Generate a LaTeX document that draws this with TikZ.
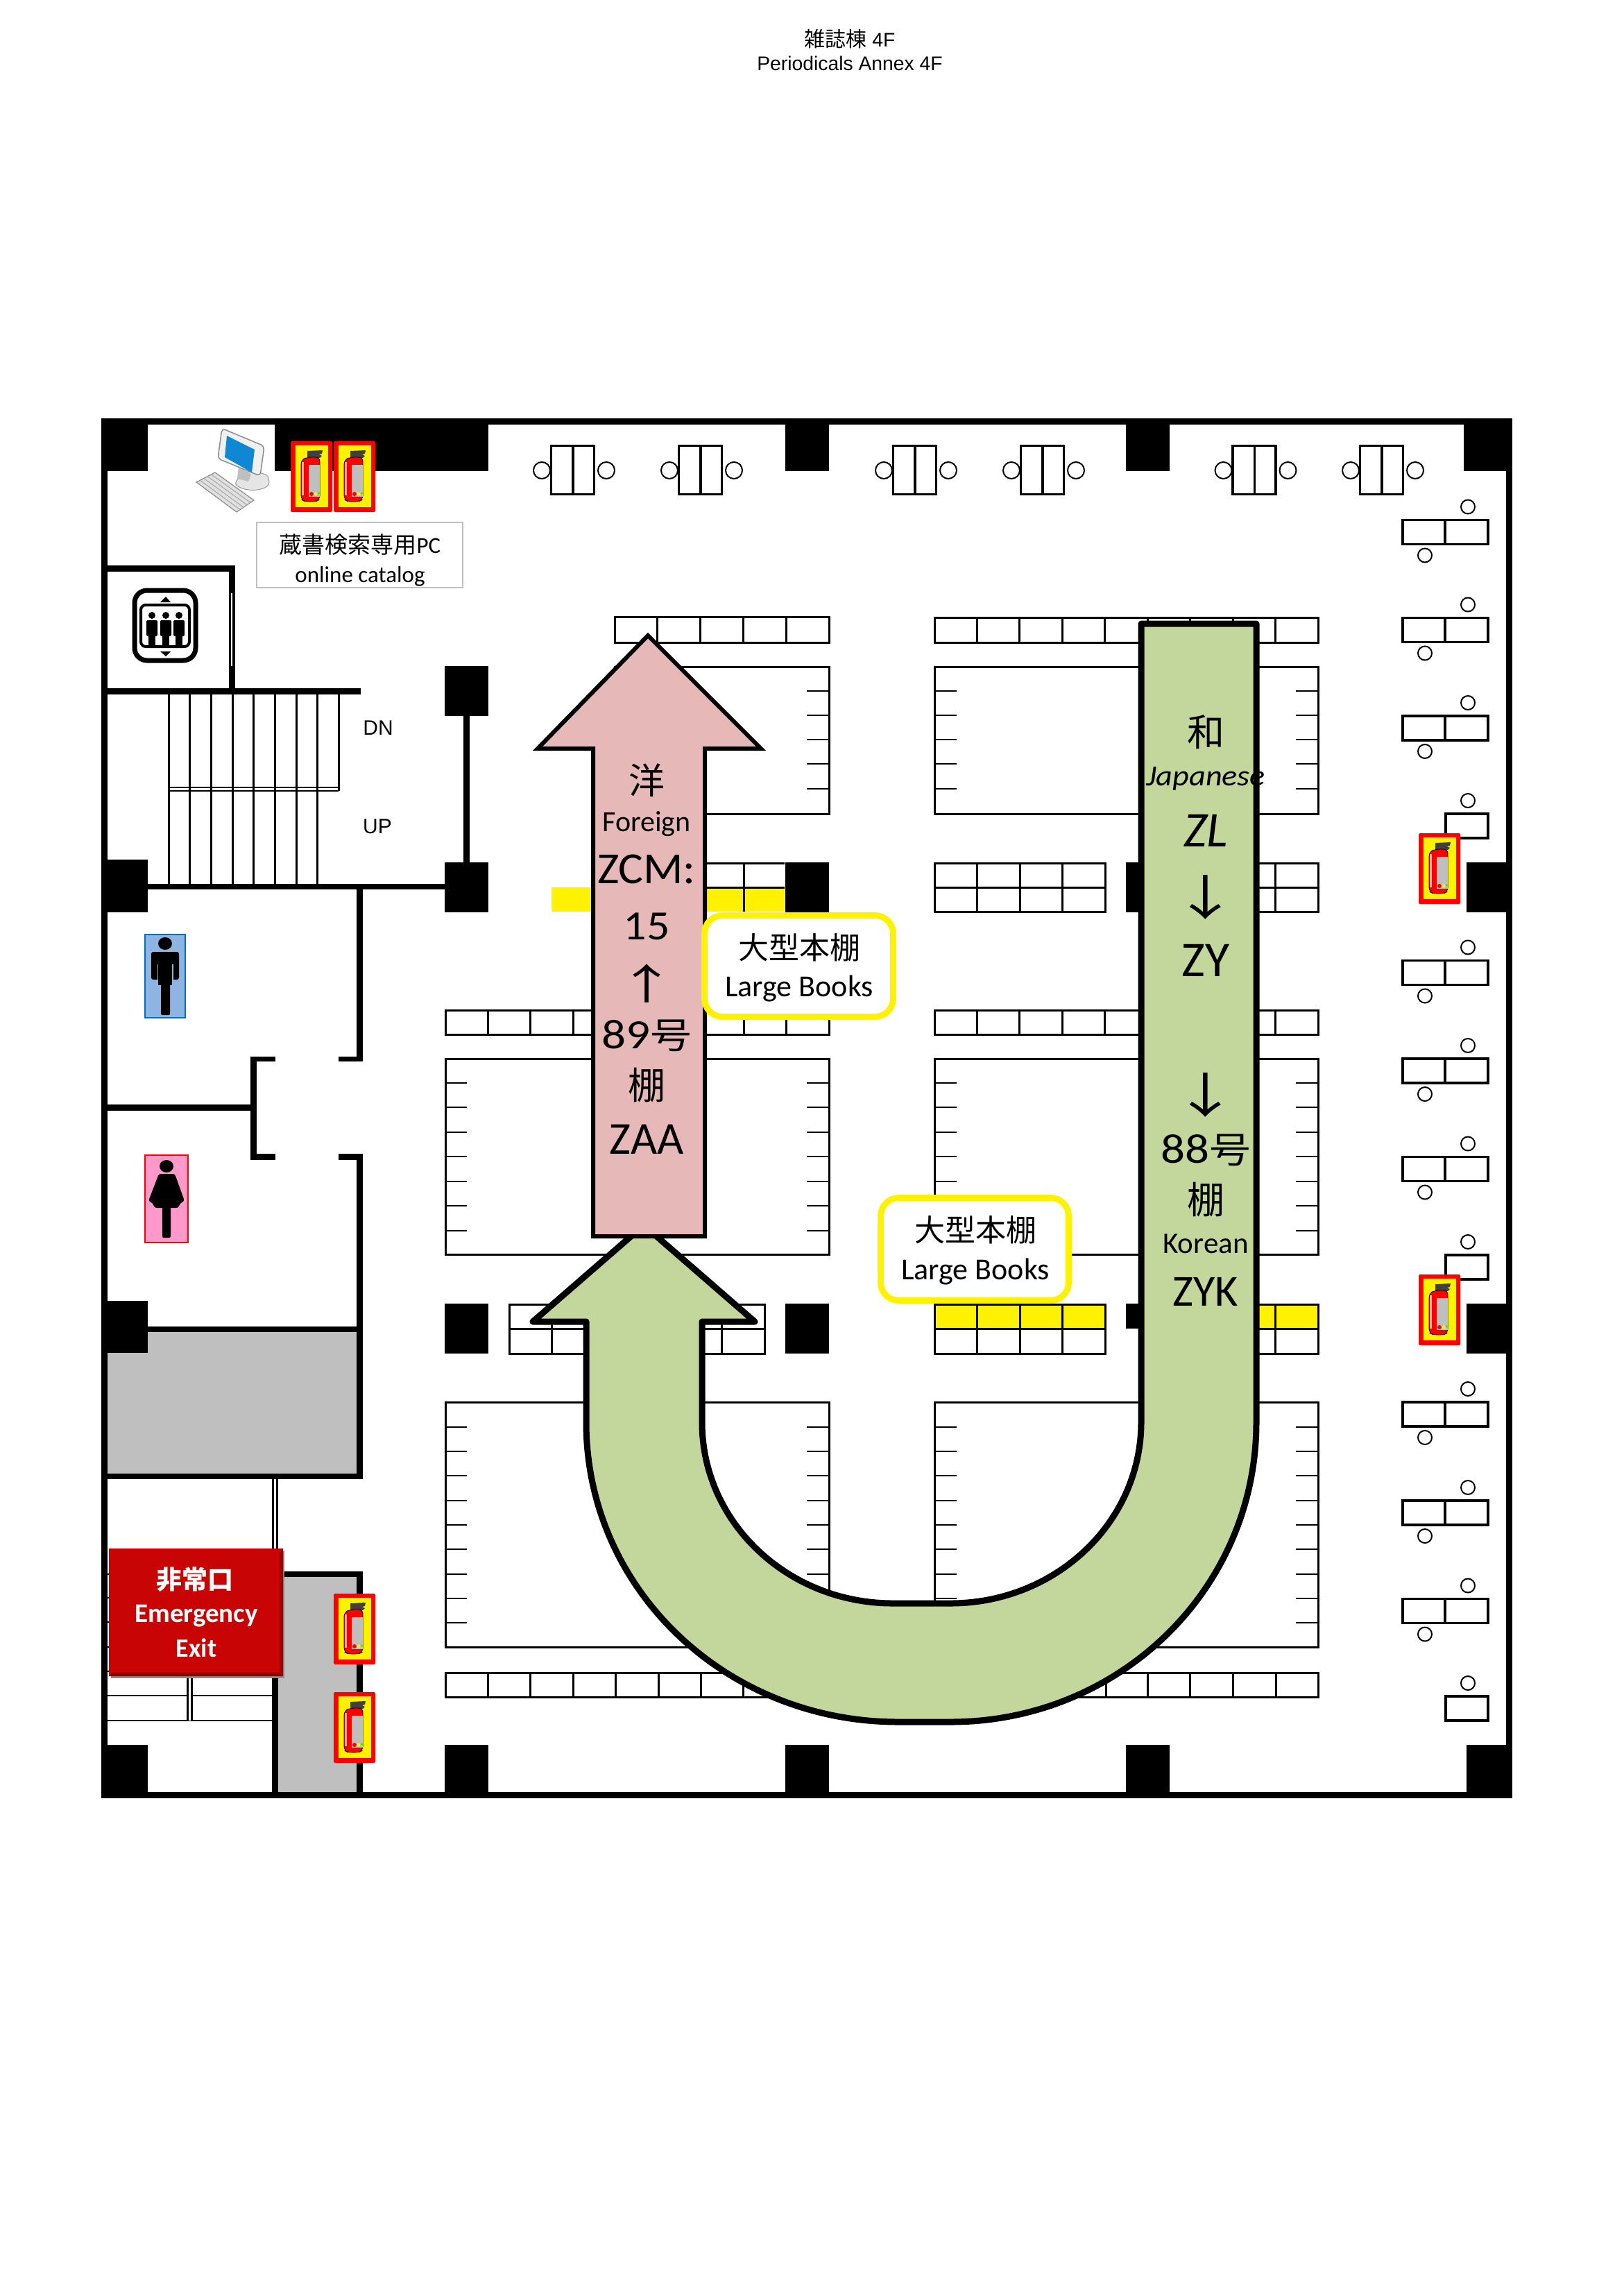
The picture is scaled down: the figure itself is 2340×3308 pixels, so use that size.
\documentclass[tikz,border=0pt]{standalone}
\usepackage{fontspec}
\usepackage{graphicx}
\setmainfont{Carlito}
\newfontfamily\cjk{Noto Sans CJK JP}
\newfontfamily\titlefont{Liberation Sans}
\usepackage{xcolor}
\usetikzlibrary{calc}
\definecolor{pinkarrow}{HTML}{E6B9B8}
\definecolor{greenarrow}{HTML}{C3D69B}
\definecolor{roomgray}{HTML}{BFBFBF}
\definecolor{signred}{HTML}{C80404}
\definecolor{menblue}{HTML}{8EB4E3}
\definecolor{menedge}{HTML}{0070C0}
\definecolor{womenpink}{HTML}{FF99CC}
\newcommand{\fsz}[1]{\fontsize{#1}{#1}\selectfont}
\newcommand{\widen}[2]{\scalebox{#1}[1]{#2}}
\tikzset{
  txt/.style={inner sep=0pt,align=center},
  shelf/.style={draw=black,line width=3pt},
  tick/.style={draw=black,line width=2.6pt},
  balloon/.style={draw=yellow,line width=9pt,fill=white,rounded corners=26pt},
  chair/.style={draw=black,line width=2pt,fill=white},
  deskline/.style={draw=black,line width=3.6pt},
  extsign/.pic={
    \fill[red,rounded corners=2pt] (0,0) rectangle (60,102);
    \fill[yellow] (6.5,6) rectangle (54,95);
    \fill[black!75] (24,14) -- (46,13) -- (45,18) -- (41,19) -- (45,21) -- (42,24) -- (24,24) -- cycle;
    \filldraw[draw=black,line width=.8pt,fill=red,rounded corners=6pt] (15,27) -- (24,23) -- (42,23) -- (42,84) -- (36,87) -- (21,87) -- (15,84) -- cycle;
    \fill[roomgray] (26,34) rectangle (42,80);
    \fill[roomgray] (16,30) rectangle (19,78);
    \fill[red] (30,76) circle[radius=3];
    \fill[yellow] (36,76) circle[radius=2.6];
    \fill[green] (40.5,75) circle[radius=1.6];
  },
  deskpair/.pic={
    \draw[chair] (94,-19) circle[radius=10];
    \draw[chair] (32,51) circle[radius=10];
    \draw[deskline,fill=white] (0,0) rectangle (123,35);
    \draw[deskline] (61,0) -- (61,35);
  },
  desksingle/.pic={
    \draw[chair] (32,-19) circle[radius=10];
    \draw[deskline,fill=white] (0,0) rectangle (61,35);
  },
  tableset/.pic={
    \draw[chair] (-13.5,35.5) circle[radius=12];
    \draw[chair] (79.5,35.5) circle[radius=12];
    \draw[deskline,fill=white] (0,0) rectangle (62,70);
    \draw[deskline] (31.5,0) -- (31.5,70);
  },
}
\begin{document}
\begin{tikzpicture}[x=1pt,y=-1pt]
\useasboundingbox (0,0) rectangle (2340,3308);

\node[txt,font=\titlefont\fsz{28.3}] (titlejp) at (1225,56) {{\cjk\fsz{30}雑誌棟} 4F};
\node[txt,font=\titlefont\fsz{28.3}] (titleen) at (1225,91) {Periodicals Annex 4F};

% rooms
\fill[roomgray] (155,1920) rectangle (514,2124);
\fill[roomgray] (401,2273) rectangle (514,2583);

% walls
\draw[line width=9pt] (150.5,607.5) rectangle (2175.5,2587);
\foreach \xa/\ya/\xb/\yb in {
  155/815/339/824, 330/815/339/1001, 155/992/520/1001, 155/1274/641/1282,
  668/1032/677/1243, 514/1282/523/1530, 488/1523/523/1530,
  361/1523/370/1672, 361/1523/397/1530, 361/1663/397/1672, 155/1592/361/1601,
  514/1663/523/2132, 488/1663/523/1672, 213/1912/523/1920, 155/2124/523/2132,
  392/2132/401/2591, 392/2265/523/2273, 514/2265/523/2591}
  \fill[black] (\xa,\ya) rectangle (\xb,\yb);
\fill[white] (333,855) rectangle (335,960);
\fill[white] (395,2132) rectangle (397.5,2265);

% pillars
\foreach \xa/\ya/\xb/\yb in {
  146/603/213/679, 396/603/704/679, 1132/603/1195/679, 1623/603/1686/679, 2110/603/2180/679,
  641/960/704/1032, 146/1239/213/1315, 641/1243/704/1315, 1132/1243/1195/1315, 1623/1243/1686/1315, 2114/1243/2171/1315,
  146/1875/213/1950, 641/1879/704/1951, 1132/1879/1195/1951, 1623/1879/1660/1915, 2114/1879/2171/1951,
  146/2515/213/2591, 641/2515/704/2591, 1132/2515/1195/2591, 1623/2515/1686/2591, 2114/2515/2180/2591}
  \fill[black] (\xa,\ya) rectangle (\xb,\yb);

% stairs
\foreach \x in {243,273.5,304,335,365.5,396,427,457}
  \draw[line width=3pt] (\x,1001) -- (\x,1274);
\draw[line width=3pt] (488,1001) -- (488,1140);
\draw[line width=2.5pt] (243,1135) -- (488,1135);
\draw[line width=2.5pt] (243,1140) -- (488,1140);

% lower left stairs
\foreach \y in {2269,2303,2338,2374,2409,2444,2480}
  \draw[line width=2.5pt] (155,\y) -- (392,\y);
\fill[black] (269,2269) rectangle (278,2480);
\fill[white] (272,2269) rectangle (274.5,2480);

% shelf rows
\foreach \xa/\xb/\ya/\yb/\n in {886/1195/889/926/5, 642/1195/1456/1491/9, 1347/1900/890/926/9, 1347/1900/1456/1491/9}{
  \draw[shelf] (\xa,\ya) rectangle (\xb,\yb);
  \foreach \i in {1,...,\n}
    \draw[shelf] ({\xb-(\xb-\xa)*\i/\n},\ya) -- ({\xb-(\xb-\xa)*\i/\n},\yb);
}
\draw[shelf] (642,2411) rectangle (1900,2446);
\foreach \x in {703,764,826,887,949,1010,1071,1133,1594,1654,1715,1777,1839}
  \draw[shelf] (\x,2411) -- (\x,2446);

% shelf blocks
\foreach \xa/\xb/\ya/\yb in {886/1195/961/1173, 642/1195/1526/1808, 1347/1900/961/1173, 1347/1900/1526/1808, 642/1195/2021/2374, 1347/1900/2021/2374}
  \draw[shelf] (\xa,\ya) rectangle (\xb,\yb);
\foreach \y in {996,1031,1066,1101,1137}{
  \draw[tick] (1163,\y) -- (1195,\y);
  \draw[tick] (1347,\y) -- (1379,\y);
  \draw[tick] (1868,\y) -- (1900,\y);
}
\foreach \y in {1561,1596,1632,1667,1703,1738,1774}{
  \draw[tick] (642,\y) -- (673,\y);
  \draw[tick] (1163,\y) -- (1195,\y);
  \draw[tick] (1347,\y) -- (1379,\y);
  \draw[tick] (1868,\y) -- (1900,\y);
}
\foreach \y in {2057,2092,2127,2163,2198,2233,2269,2304,2339}{
  \draw[tick] (642,\y) -- (673,\y);
  \draw[tick] (1163,\y) -- (1195,\y);
  \draw[tick] (1347,\y) -- (1379,\y);
  \draw[tick] (1868,\y) -- (1900,\y);
}

% double shelves beside the pillars
\fill[yellow] (795,1279) rectangle (1131,1314);
\draw[shelf] (1019,1244) -- (1131,1244);
\draw[shelf] (1019,1279) -- (1131,1279);
\draw[shelf] (1072,1244) -- (1072,1314);
\fill[yellow] (1347,1880) rectangle (1593,1915);
\fill[yellow] (1715,1880) rectangle (1900,1915);
\foreach \xa/\xb/\ya/\yb/\n in {1347/1593/1244/1314/4, 1715/1900/1244/1314/3, 1347/1593/1880/1951/4, 1715/1900/1880/1951/3, 734/1102/1880/1951/6}{
  \draw[shelf] (\xa,\ya) rectangle (\xb,\yb);
  \draw[shelf] (\xa,{(\ya+\yb)/2}) -- (\xb,{(\ya+\yb)/2});
  \foreach \i in {1,...,\n}
    \draw[shelf] ({\xb-(\xb-\xa)*\i/\n},\ya) -- ({\xb-(\xb-\xa)*\i/\n},\yb);
}

% desks and tables
\foreach \x in {794.5,978.5,1287.5,1471.5,1777,1960.5}
  \pic at (\x,642.5) {tableset};
\foreach \y in {749.5,890.5,1032,1384.5,1526,1667.5,2021,2163,2304.5}
  \pic at (2022,\y) {deskpair};
\foreach \y in {1173,1809,2445}
  \pic at (2084,\y) {desksingle};

% extinguishers
\foreach \x/\y in {419/636,481/636,481/2297,481/2439,2045/1201,2045/1837}
  \pic at (\x,\y) {extsign};

% computer
\fill[black!10,draw=black!40,line width=1pt,rounded corners=4pt] (338,698) .. controls (360,712) and (388,705) .. (388,692) .. controls (385,682) and (370,680) .. (350,680) -- cycle;
\fill[black!25] (344,672) -- (362,684) -- (358,694) -- (342,690) -- cycle;
\filldraw[draw=black!45,fill=black!6,line width=1.5pt,rounded corners=5pt] (320,617.5) -- (381,643) -- (375,686) -- (314,661) -- cycle;
\fill[cyan!70!blue] (327,628) -- (367,648) -- (363,681) -- (324,659) -- cycle;
\filldraw[draw=black!45,fill=black!12,line width=1.2pt] (283,695) -- (310,681) -- (366,721) -- (341,738) -- cycle;
\foreach \t in {.2,.4,.6,.8}
  \draw[black!35,line width=1pt] ($(283,695)!\t!(310,681)$) -- ($(341,738)!\t!(366,721)$);

% catalog label
\draw[draw=roomgray,line width=2.5pt] (370,753) rectangle (667,847);
\node[txt,font=\fsz{33}] (catalogjp) at (519,785) {{\cjk 蔵書検索専用}PC};
\node[txt,font=\fsz{33}] (catalogen) at (519,831) {online catalog};
\node[txt,font=\titlefont\fsz{30}] (dn) at (545,1049) {DN};
\node[txt,font=\titlefont\fsz{30}] (up) at (544,1191) {UP};

% elevator
\draw[line width=7pt,rounded corners=18pt] (194,851) rectangle (282,952);
\draw[line width=4pt,rounded corners=7pt] (203,872) rectangle (273,932);
\foreach \x in {219,239,258}{
  \fill[black] (\x,887) circle[radius=5];
  \fill[black,rounded corners=2pt] (\x-8,894) rectangle (\x+8,917);
  \fill[black] (\x-5,910) rectangle (\x+5,932);
}
\fill[black] (231,868) -- (246,868) -- (239,860) -- cycle;
\fill[black] (231,939) -- (246,939) -- (239,946) -- cycle;

% toilets
\draw[draw=menedge,fill=menblue,line width=2.5pt] (209,1347) rectangle (267,1467);
\fill[black] (238,1360) ellipse[x radius=10,y radius=9];
\fill[black,rounded corners=3pt] (218,1372) rectangle (258,1412);
\fill[menblue] (226.5,1390) rectangle (228,1414);
\fill[menblue] (248,1390) rectangle (249.5,1414);
\fill[menblue] (216,1414) rectangle (227,1420);
\fill[black] (228,1400) rectangle (248,1420);
\fill[black,rounded corners=2pt] (232,1415) rectangle (245,1463);
\draw[draw=red,fill=womenpink,line width=2.5pt] (209,1665) rectangle (271,1791);
\fill[black] (240,1681) ellipse[x radius=10,y radius=9];
\fill[black,rounded corners=3pt] (229,1692) -- (252,1692) -- (266,1731) -- (260,1734) -- (257,1741) -- (223,1741) -- (220,1734) -- (214,1731) -- cycle;
\fill[black,rounded corners=2pt] (234,1735) rectangle (246,1784);

% green arrow
\draw[line join=round,line width=9pt,fill=greenarrow] (1645,899) -- (1811,899) -- (1811,2050)
  .. controls (1811,2290) and (1614,2482) .. (1370,2482) -- (1295,2482)
  .. controls (1046,2482) and (845,2290) .. (845,2050) -- (845,1905) -- (768,1905) -- (928,1766) -- (1088,1905) -- (1012,1905) -- (1012,2050)
  .. controls (1012,2194) and (1135,2311) .. (1287,2311) -- (1370,2311)
  .. controls (1522,2311) and (1645,2194) .. (1645,2050) -- cycle;

% pink arrow
\draw[line join=miter,line width=6pt,fill=pinkarrow] (855,1782) -- (855,1079) -- (775,1079) -- (934,916) -- (1097,1079) -- (1016,1079) -- (1016,1782) -- cycle;

% red sign
\fill[black!45] (160,2236) rectangle (410,2419);
\fill[signred] (157,2232) rectangle (408,2416);
\fill[red!80!black] (157,2232) -- (408,2232) -- (403,2237) -- (162,2237) -- cycle;
\fill[signred!70!black] (157,2416) -- (408,2416) -- (403,2411) -- (162,2411) -- cycle;
\fill[signred!80!black] (408,2232) -- (408,2416) -- (403,2411) -- (403,2237) -- cycle;
\node[txt,white,font=\cjk\bfseries\fsz{37}] (exitjp) at (281,2277) {非常口};
\node[txt,white,font=\bfseries\fsz{39}] (exiten) at (283,2329) {Emergency};
\node[txt,white,font=\bfseries\fsz{38}] (exitword) at (283,2375) {Exit};

% labels on the arrows
\node[txt,font=\cjk\fsz{52}] (pinka) at (932,1125) {洋};
\node[txt,font=\fsz{42}] (pinkb) at (932,1188) {Foreign};
\node[txt,font=\fsz{64}] (pinkc) at (932,1253) {\widen{1.05}{ZCM:}};
\node[txt,font=\fsz{60}] (pinkd) at (932,1335) {\widen{1.1}{15}};
\node[txt,font=\cjk\fsz{60}] (pinke) at (932,1418) {\widen{1.4}{↑}};
\node[txt,font=\fsz{60}] (pinkf) at (932,1493) {\widen{1.15}{89{\cjk\fsz{52}号}}};
\node[txt,font=\cjk\fsz{54}] (pinkg) at (932,1564) {棚};
\node[txt,font=\fsz{66}] (pinkh) at (932,1642) {ZAA};

\node[txt,font=\cjk\fsz{54}] (greena) at (1738,1055) {和};
\node[txt,font=\itshape\fsz{42}] (greenb) at (1738,1122) {\widen{1.1}{Japanese}};
\node[txt,font=\itshape\fsz{72}] (greenc) at (1738,1197) {ZL};
\node[txt,font=\cjk\fsz{69}] (greend) at (1738,1293) {\widen{1.4}{↓}};
\node[txt,font=\fsz{72}] (greene) at (1738,1384) {ZY};
\node[txt,font=\cjk\fsz{69}] (greenf) at (1738,1578) {\widen{1.4}{↓}};
\node[txt,font=\fsz{60}] (greeng) at (1738,1658) {\widen{1.15}{88{\cjk\fsz{52}号}}};
\node[txt,font=\cjk\fsz{54}] (greenh) at (1738,1729) {棚};
\node[txt,font=\fsz{43}] (greeni) at (1738,1793) {Korean};
\node[txt,font=\fsz{64}] (greenj) at (1738,1862) {ZYK};

% large books balloons
\draw[balloon] (1015.5,1319.5) rectangle (1287.5,1465.5);
\node[txt,font=\cjk\fsz{44}] (largejpa) at (1152,1366) {大型本棚};
\node[txt,font=\fsz{44}] (largeena) at (1152,1425) {Large Books};
\draw[balloon] (1269.5,1726.5) rectangle (1540.5,1874.5);
\node[txt,font=\cjk\fsz{44}] (largejpb) at (1406,1773) {大型本棚};
\node[txt,font=\fsz{44}] (largeenb) at (1406,1833) {Large Books};
\end{tikzpicture}
\end{document}
